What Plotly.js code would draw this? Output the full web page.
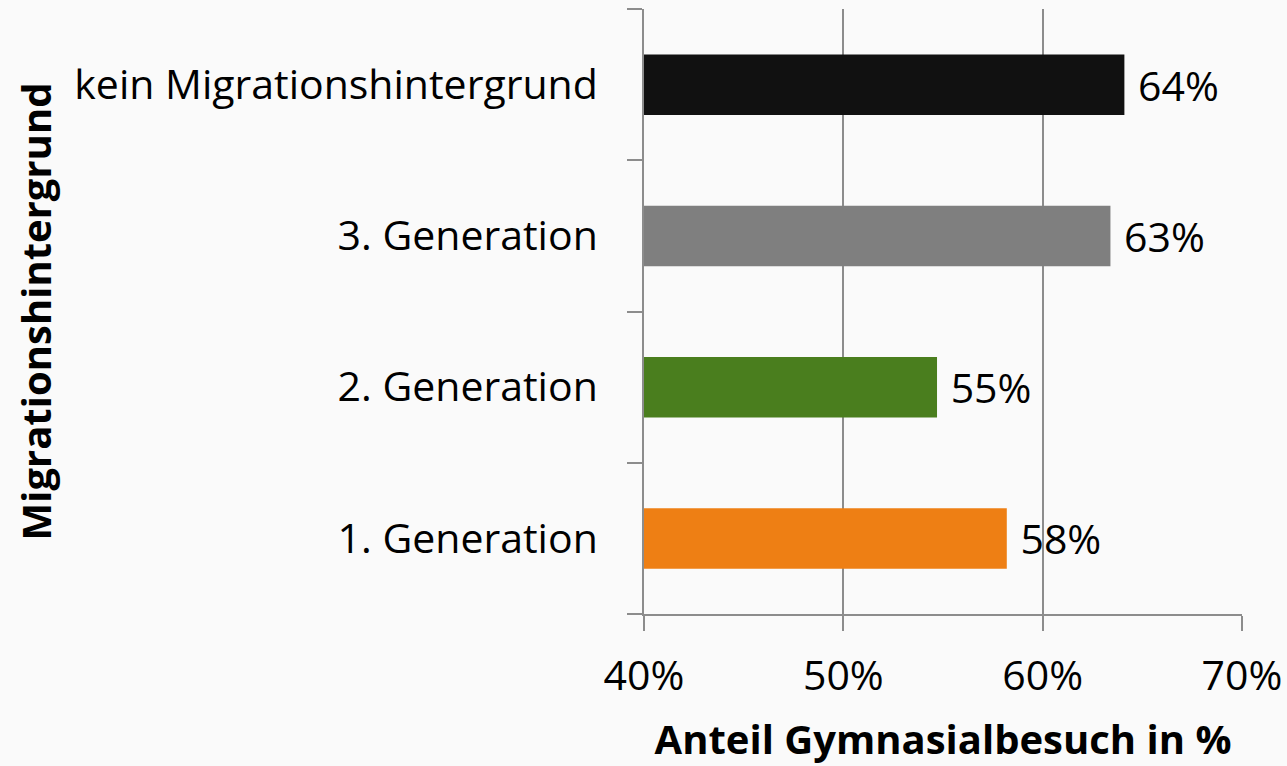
<!DOCTYPE html>
<html>
<head>
<meta charset="utf-8">
<script src="https://cdn.plot.ly/plotly-3.0.1.min.js"></script>
<style>html,body{margin:0;padding:0;background:#fafafa;}#chart{width:1287px;height:766px;}</style>
</head>
<body>
<div id="chart"></div>
<script>
const categories = ["1. Generation", "2. Generation", "3. Generation", "kein Migrationshintergrund"];
const values = [58.2, 54.7, 63.4, 64.1];
const barColors = ["#ee7f14", "#4a7e1e", "#7f7f7f", "#111111"];
const xTickVals = [40, 50, 60, 70];
const xTickText = ["40%", "50%", "60%", "70%"];

const font = "Open Sans, Liberation Sans, sans-serif";

const trace = {
  type: "bar",
  orientation: "h",
  y: categories,
  x: values,
  base: 0,
  width: 0.4,
  marker: {color: barColors},
  text: values.map(v => "\u00a0" + Math.round(v) + "%"),
  textposition: "outside",
  cliponaxis: false,
  textfont: {family: font, size: 41, color: "#000"},
  hoverinfo: "none"
};

const layout = {
  width: 1287,
  height: 766,
  paper_bgcolor: "#fafafa",
  plot_bgcolor: "#fafafa",
  margin: {l: 644, r: 45, t: 9, b: 152},
  showlegend: false,
  font: {family: font, color: "#000"},
  uniformtext: {mode: false},
  xaxis: {
    range: [40, 70],
    tickvals: xTickVals,
    ticktext: xTickText,
    showgrid: true,
    gridcolor: "#8c8c8c",
    gridwidth: 2,
    zeroline: false,
    showline: true,
    linecolor: "#8c8c8c",
    linewidth: 2,
    ticks: "outside",
    ticklen: 15,
    tickwidth: 2,
    tickcolor: "#8c8c8c",
    tickfont: {family: font, size: 41, color: "#000"},
    ticklabelstandoff: 10,
    title: {text: "<b>Anteil Gymnasialbesuch in %</b>", font: {family: font, size: 40, color: "#000"}, standoff: 26},
    automargin: false,
    fixedrange: true
  },
  yaxis: {
    type: "category",
    categoryorder: "array",
    categoryarray: categories,
    showgrid: false,
    zeroline: false,
    showline: true,
    linecolor: "#8c8c8c",
    linewidth: 2,
    ticks: "outside",
    tickson: "boundaries",
    ticklen: 15,
    tickwidth: 2,
    tickcolor: "#8c8c8c",
    tickfont: {family: font, size: 41, color: "#000"},
    ticklabelstandoff: 36,
    title: {text: "<b>Migrationshintergrund</b>", font: {family: font, size: 40, color: "#000"}, standoff: 10},
    automargin: false,
    fixedrange: true
  }
};

Plotly.newPlot("chart", [trace], layout, {displayModeBar: false, staticPlot: true});
</script>
</body>
</html>
